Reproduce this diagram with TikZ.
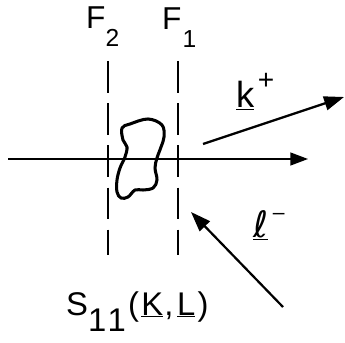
\documentclass[tikz,border=0pt]{standalone}
\usepackage{fontspec}
\setmainfont{Liberation Sans}
\newfontfamily\symfont{DejaVu Sans}
\usetikzlibrary{arrows.meta}
\tikzset{
  px/.style={x=0.3mm,y=-0.3mm},
  axis/.style={line width=1.2pt,-{Triangle[length=15pt,width=11pt]}},
  plane/.style={line width=1.2pt,dash pattern=on 27pt off 9pt},
  mom/.style={line width=1.9pt,-{Triangle[length=17pt,width=12pt]}},
  lbl/.style={inner sep=0pt,anchor=base west},
  blob/.style={line width=2.6pt,line join=round},
}
\newcommand{\bigfont}[1]{\fontsize{#1}{#1}\selectfont}

\begin{document}
\begin{tikzpicture}[px]
    \useasboundingbox (0,0) rectangle (345,342);
    % planes F2 and F1
    \foreach \x/\n in {108/2,178/1}{
      \coordinate (top\n) at (\x,61);
      \coordinate (bot\n) at (\x,255);
      \draw[plane] (top\n) -- (bot\n);
    }
    \node[lbl,font=\bigfont{27}] (f2) at (86,29) {F\raisebox{-15pt}{\bigfont{21}2}};
    \node[lbl,font=\bigfont{27}] (f1) at (162,30) {F\kern1pt\raisebox{-15pt}{\bigfont{21}1}};
    % beam axis
    \coordinate (ax0) at (8,159);
    \coordinate (ax1) at (308,159);
    \draw[axis] (ax0) -- (ax1);
    % target
    \draw[blob] plot[smooth cycle,tension=0.6] coordinates {
      (122,128) (130,124) (148,119) (162,125) (164,137) (161,147) (157,158)
      (155,168) (157,180) (153,188) (143,190) (135,190) (128,197) (121,198)
      (117,192) (117,180) (120,168) (125,157) (127,147) (123,140)};
    % outgoing k+
    \coordinate (k0) at (203,144);
    \coordinate (k1) at (344,97);
    \draw[mom] (k0) -- (k1);
    \node[lbl,font=\bigfont{31}] (kp) at (236,108) {\underline{k}\kern3pt\raisebox{16pt}{\bigfont{24}+}};
    % incoming l-
    \coordinate (l0) at (283,307);
    \coordinate (l1) at (191,212);
    \draw[mom] (l0) -- (l1);
    \node[lbl,font=\symfont\bigfont{31}] (lm) at (253,237) {\underline{ℓ}\kern4pt\raisebox{15pt}{\fontspec{Liberation Sans}\bigfont{18}–}};
    % amplitude
    \node[lbl,font=\bigfont{28}] (amp) at (66,315)
      {S\raisebox{-14pt}{1\kern1pt1}\kern2pt(\kern2pt\underline{K}\kern1pt,\kern3pt\underline{L}\kern2pt)};
  \end{tikzpicture}
\end{document}
